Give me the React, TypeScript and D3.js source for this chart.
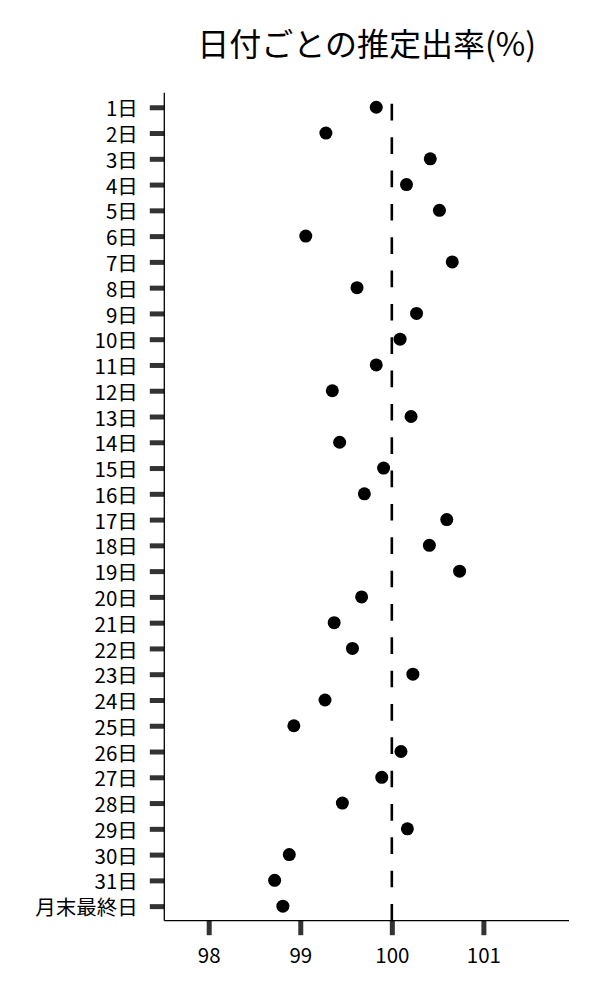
import { useEffect, useRef } from 'react';
import * as d3 from 'd3';

// day labels on the y axis, top to bottom
const days: string[] = [
  '1日', '2日', '3日', '4日', '5日', '6日', '7日', '8日', '9日', '10日',
  '11日', '12日', '13日', '14日', '15日', '16日', '17日', '18日', '19日', '20日',
  '21日', '22日', '23日', '24日', '25日', '26日', '27日', '28日', '29日', '30日',
  '31日', '月末最終日',
];

// estimated rate (%) per day
const rates: number[] = [
  99.83, 99.28, 100.42, 100.16, 100.52, 99.06, 100.66, 99.62, 100.27, 100.09,
  99.83, 99.35, 100.21, 99.43, 99.91, 99.70, 100.60, 100.41, 100.74, 99.67,
  99.37, 99.57, 100.23, 99.27, 98.93, 100.10, 99.89, 99.46, 100.17, 98.88,
  98.72, 98.81,
];

const xTicks: number[] = [98, 99, 100, 101];
const xDomain: [number, number] = [97.515, 101.935];
const refValue = 100;

const title = '日付ごとの推定出率(%)';

const W = 600;
const H = 1000;
const left = 164.3;
const right = 569;
const top = 92.7;
const bottom = 920.7;

const FONT = '"Noto Sans CJK JP", "Noto Sans", sans-serif';

const App = () => {
  const ref = useRef<SVGSVGElement | null>(null);

  useEffect(() => {
    const svg = d3.select(ref.current);
    svg.selectAll('*').remove();

    const x = d3.scaleLinear().domain(xDomain).range([left, right]);
    const y = d3.scalePoint<string>().domain(days).range([top, bottom]).padding(0.565);

    // title
    svg.append('text')
      .attr('x', (left + right) / 2)
      .attr('y', 56)
      .attr('text-anchor', 'middle')
      .style('font-size', '32px')
      .style('fill', '#000')
      .text(title);

    // y axis ticks + labels
    const yAxis = svg.append('g')
      .attr('transform', `translate(${left},0)`)
      .call(d3.axisLeft(y).tickSize(14.5).tickPadding(12));
    yAxis.select('.domain').remove();
    yAxis.selectAll('.tick line').attr('stroke', '#333').attr('stroke-width', 5);
    yAxis.selectAll('.tick text')
      .attr('dy', '0.42em')
      .style('font-size', '20.5px')
      .style('font-family', FONT)
      .style('fill', '#000');

    // x axis ticks + labels
    const xAxis = svg.append('g')
      .attr('transform', `translate(0,${bottom})`)
      .call(d3.axisBottom(x).tickValues(xTicks).tickSize(14.5).tickPadding(13.3).tickFormat(d3.format('d')));
    xAxis.select('.domain').remove();
    xAxis.selectAll('.tick line').attr('stroke', '#333').attr('stroke-width', 5);
    xAxis.selectAll('.tick text')
      .style('font-size', '20.5px')
      .style('font-family', FONT)
      .style('fill', '#000');

    // spines
    svg.append('line')
      .attr('x1', left).attr('x2', left).attr('y1', top).attr('y2', bottom)
      .attr('stroke', '#000').attr('stroke-width', 1.3);
    svg.append('line')
      .attr('x1', left).attr('x2', right).attr('y1', bottom).attr('y2', bottom)
      .attr('stroke', '#000').attr('stroke-width', 1.3);

    // reference line at 100, drawn bottom-up so dashes start at the axis
    svg.append('line')
      .attr('x1', x(refValue)).attr('x2', x(refValue))
      .attr('y1', bottom).attr('y2', top)
      .attr('stroke', '#000')
      .attr('stroke-width', 2.6)
      .attr('stroke-dasharray', '16.67 16.67');

    // points
    svg.append('g')
      .selectAll('circle')
      .data(days)
      .join('circle')
      .attr('cx', (_d, i) => x(rates[i]))
      .attr('cy', d => y(d) ?? 0)
      .attr('r', 6.5)
      .attr('fill', '#000');
  }, []);

  return (
    <svg
      ref={ref}
      width={W}
      height={H}
      style={{ position: 'absolute', left: 0, top: 0, background: '#fff', fontFamily: FONT }}
    />
  );
};

export default App;
